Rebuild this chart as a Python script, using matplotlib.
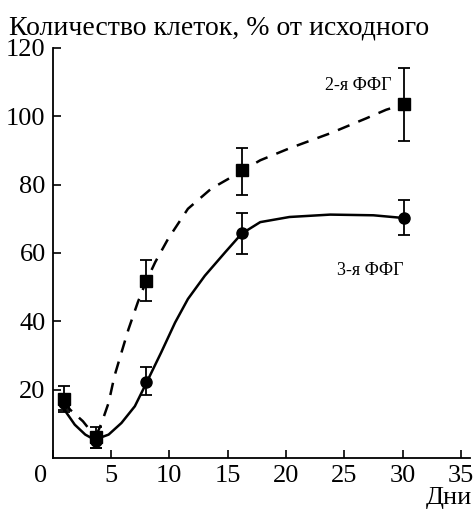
import matplotlib.pyplot as plt
from matplotlib.transforms import ScaledTranslation

plt.rcParams['font.family'] = ['Liberation Serif', 'DejaVu Serif']

# measured points (days, % of initial)
days = [1.0, 3.7, 8.0, 16.2, 30.1]
ffg2 = [17.3, 6.0, 51.9, 84.2, 103.5]
ffg2_lo = [3.3, 3.0, 5.9, 7.3, 10.7]
ffg2_hi = [3.7, 3.0, 6.1, 6.4, 10.5]
ffg3 = [16.0, 5.0, 22.1, 65.8, 70.2]
ffg3_lo = [2.5, 2.0, 3.6, 6.2, 5.1]
ffg3_hi = [2.5, 2.0, 4.4, 5.9, 5.4]

# fitted curves
curve2_x = [1.0, 1.5, 2.6, 3.3, 3.8, 4.2, 4.8, 5.3, 5.9, 6.5, 7.3, 8.0, 8.8, 9.9,
            11.6, 13.6, 15.6, 17.8, 20.3, 23.8, 26.9, 28.6, 30.1]
curve2_y = [16.5, 14.1, 10.7, 7.7, 7.0, 10.2, 16.1, 23.9, 30.8, 37.6, 45.5, 51.5,
            57.3, 64.1, 72.9, 78.8, 82.7, 87.1, 90.6, 95.0, 99.4, 101.9, 103.5]
curve3_x = [0.8, 1.9, 2.8, 3.6, 4.8, 5.9, 7.05, 8.05, 9.3, 10.5, 11.6, 13.05,
            14.8, 16.2, 17.8, 20.3, 23.8, 27.5, 30.1]
curve3_y = [15.1, 9.7, 6.8, 5.3, 6.8, 10.2, 15.1, 22.0, 30.8, 39.6, 46.5, 53.3,
            60.2, 65.6, 69.0, 70.5, 71.2, 71.0, 70.2]

fig = plt.figure(figsize=(4.74, 5.15), dpi=100)
ax = fig.add_axes([0.111, 0.111, 0.881, 0.796])

ax.plot(curve2_x, curve2_y, color='black', lw=1.8, ls=(0, (5, 3.8)))
ax.plot(curve3_x, curve3_y, color='black', lw=1.8)

ax.errorbar(days, ffg2, yerr=[ffg2_lo, ffg2_hi], fmt='s', color='black',
            ms=8, elinewidth=1.3, capsize=4, capthick=1.3)
ax.errorbar(days, ffg3, yerr=[ffg3_lo, ffg3_hi], fmt='o', color='black',
            ms=8, elinewidth=1.3, capsize=4, capthick=1.3)

ax.set_xlim(0, 35.8)
ax.set_ylim(0, 120)
ax.set_xticks([0, 5, 10, 15, 20, 25, 30, 35])
ax.set_yticks([20, 40, 60, 80, 100, 120])
ax.tick_params(direction='in', length=6, width=1.2, labelsize=19, pad=5)
for s in ['top', 'right']:
    ax.spines[s].set_visible(False)
for s in ['left', 'bottom']:
    ax.spines[s].set_linewidth(1.3)

# the "0" on the x axis sits left of the origin
lab0 = ax.get_xticklabels()[0]
lab0.set_transform(lab0.get_transform() + ScaledTranslation(-0.12, 0, fig.dpi_scale_trans))

fig.text(0.02, 0.946, 'Количество клеток, % от исходного', fontsize=20,
         ha='left', va='center')
fig.text(0.995, 0.033, 'Дни', fontsize=19, ha='right', va='center')
ax.text(26.2, 109.0, '2-я ФФГ', fontsize=13, ha='center', va='center')
ax.text(27.2, 54.7, '3-я ФФГ', fontsize=13, ha='center', va='center')

fig.savefig('out.png', dpi=100)
